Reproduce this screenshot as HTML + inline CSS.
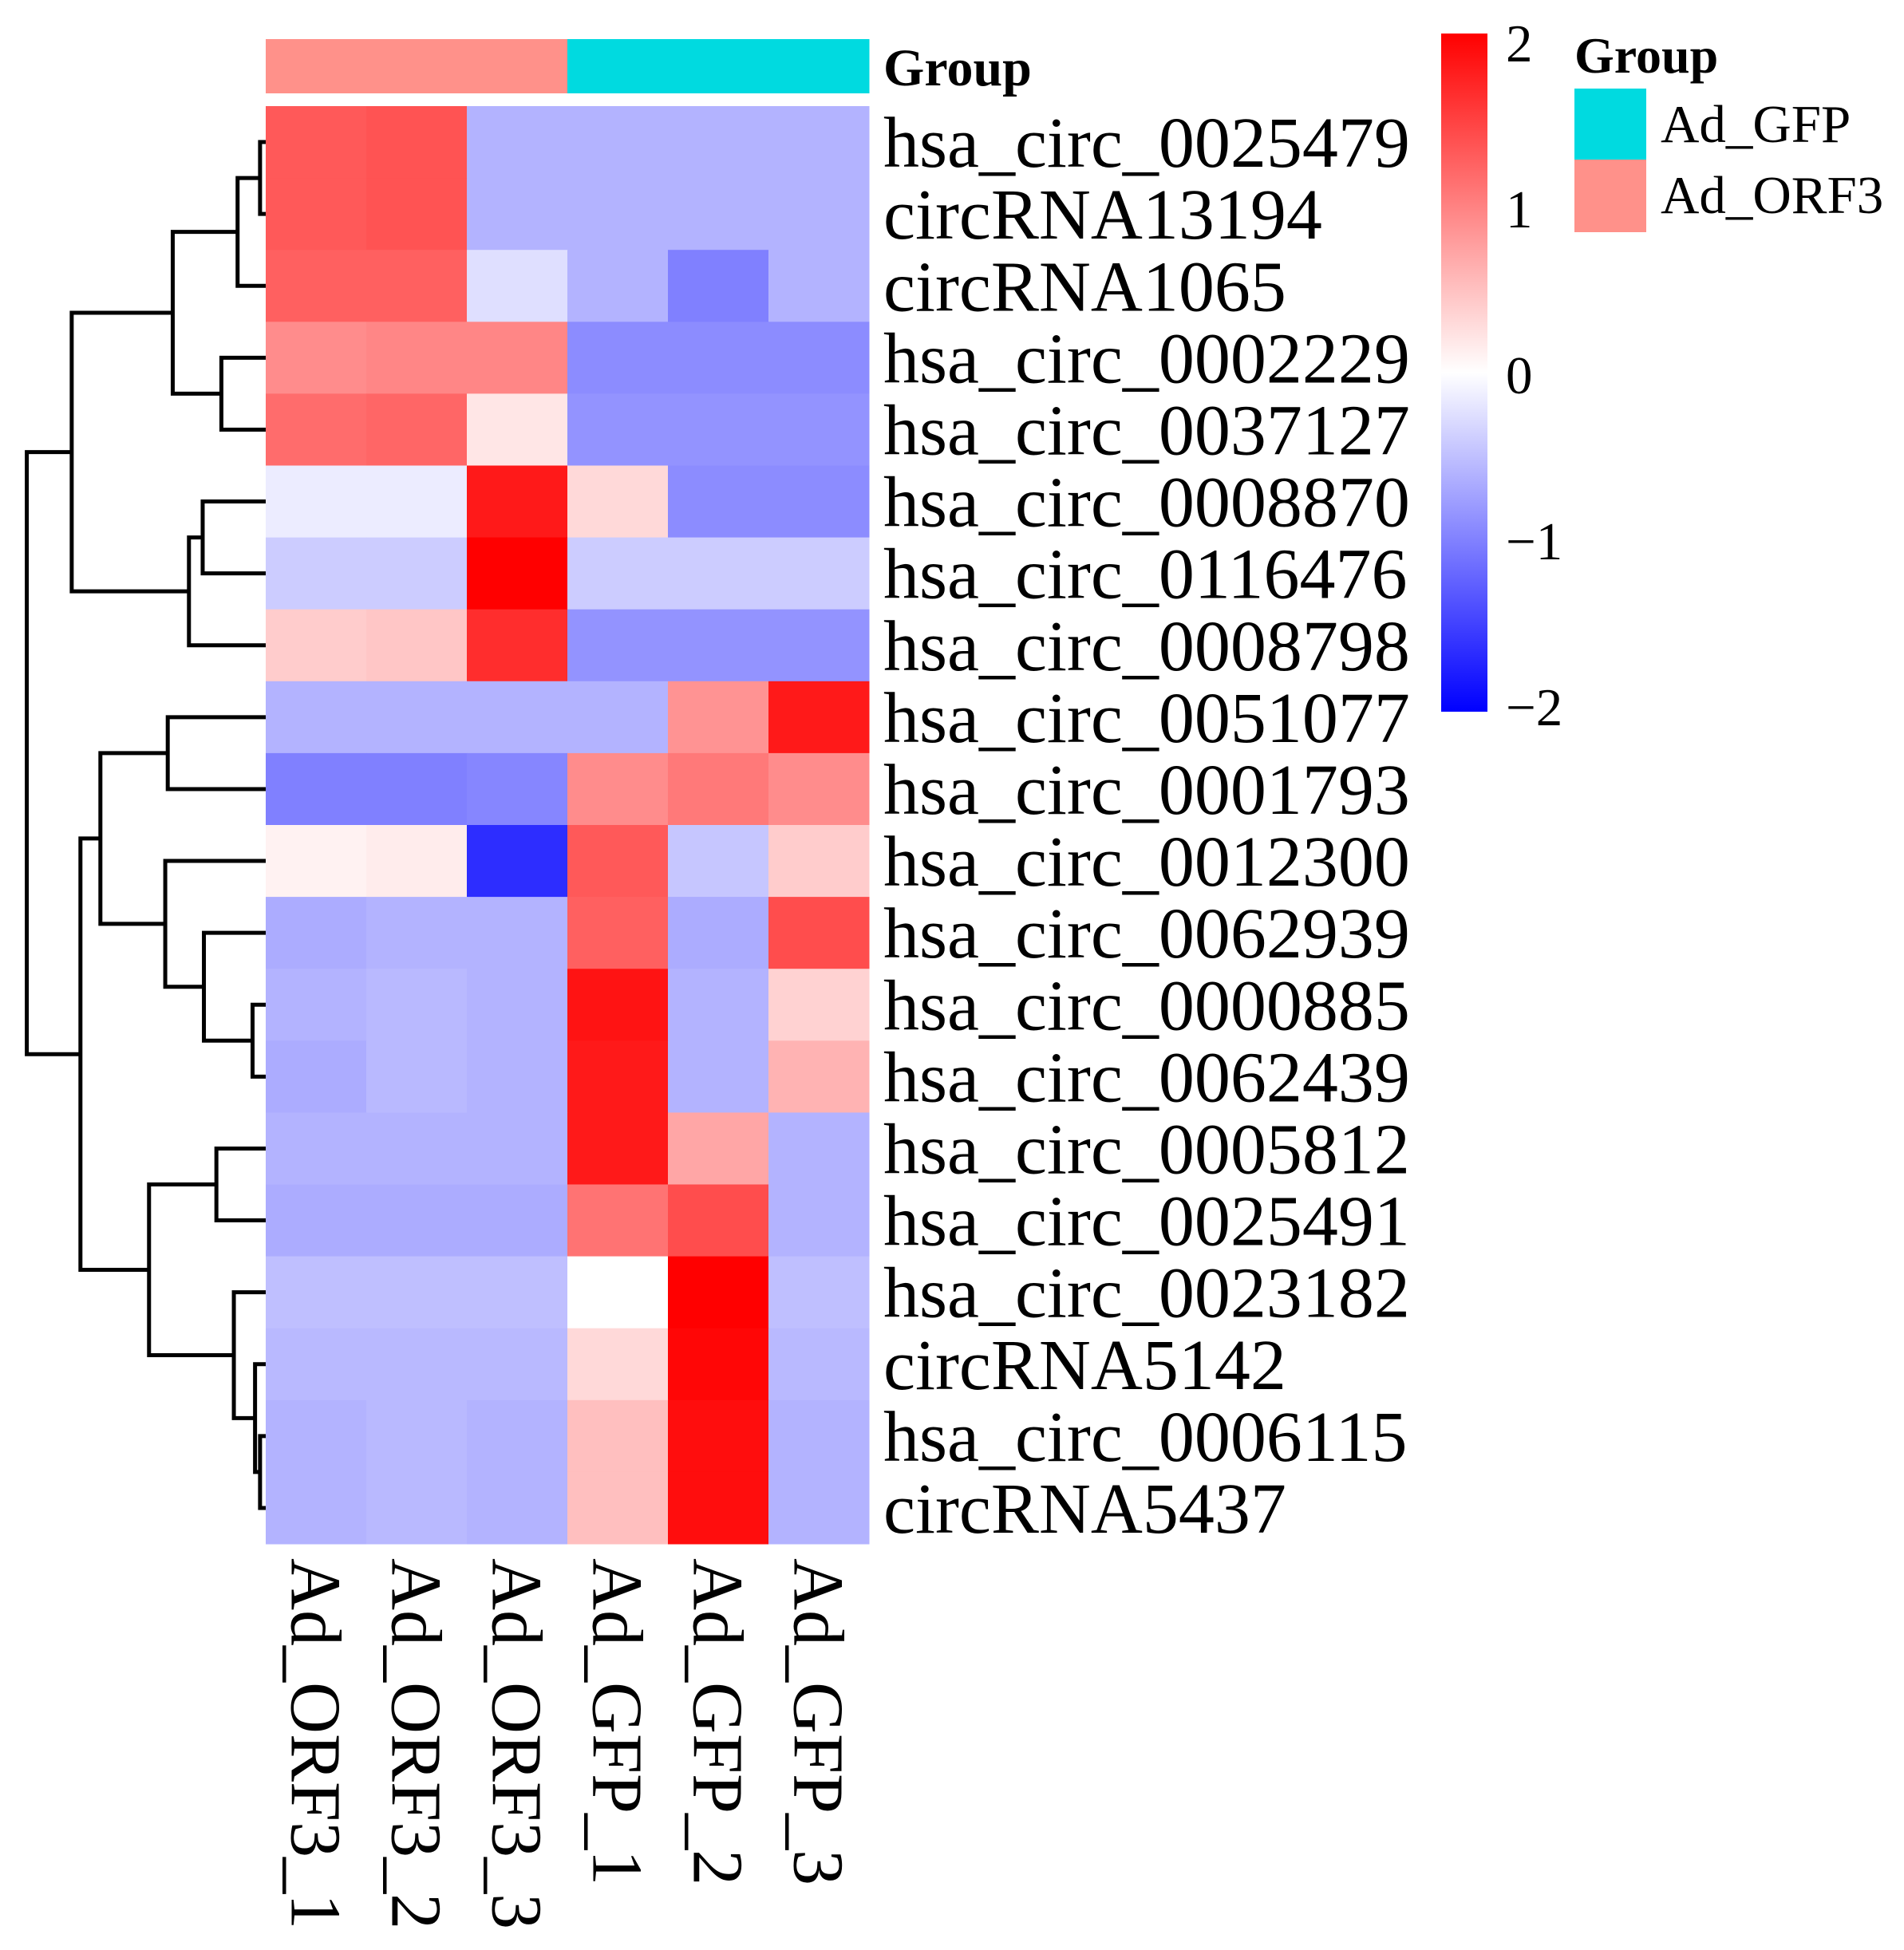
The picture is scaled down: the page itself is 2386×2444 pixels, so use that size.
<!DOCTYPE html>
<html><head><meta charset="utf-8"><style>
html,body{margin:0;padding:0;background:#fff;}
svg{display:block;font-family:"Liberation Serif",serif;}
</style></head><body>
<svg id="chart" width="2386" height="2444" viewBox="0 0 2386 2444" xmlns="http://www.w3.org/2000/svg">
<defs><linearGradient id="cbar" x1="0" y1="1" x2="0" y2="0">
<stop offset="0" stop-color="#0000ff"/><stop offset="0.5" stop-color="#ffffff"/><stop offset="1" stop-color="#ff0000"/>
</linearGradient></defs>
<g id="annot"></g>
<g id="cells"></g>
<g id="rowlabels"></g>
<g id="collabels"></g>
<g id="dendro"></g>
<text x="1107" y="107" font-weight="bold" font-size="66">Group</text>
<g>
<rect x="1806" y="42" width="58" height="850" fill="url(#cbar)"/>
<g id="cticks"></g>
</g>
<g>
<text x="1973" y="91" font-weight="bold" font-size="64">Group</text>
<rect x="1973" y="111" width="90" height="89" fill="#00dae0"/>
<text x="2081" y="178" font-size="67">Ad_GFP</text>
<rect x="1973" y="200" width="90" height="91" fill="#ff918a"/>
<text x="2081" y="267" font-size="67">Ad_ORF3</text>
</g>
</svg>
<script>
const rowNames = ["hsa_circ_0025479","circRNA13194","circRNA1065","hsa_circ_0002229","hsa_circ_0037127","hsa_circ_0008870","hsa_circ_0116476","hsa_circ_0008798","hsa_circ_0051077","hsa_circ_0001793","hsa_circ_0012300","hsa_circ_0062939","hsa_circ_0000885","hsa_circ_0062439","hsa_circ_0005812","hsa_circ_0025491","hsa_circ_0023182","circRNA5142","hsa_circ_0006115","circRNA5437"];
const colNames = ["Ad_ORF3_1","Ad_ORF3_2","Ad_ORF3_3","Ad_GFP_1","Ad_GFP_2","Ad_GFP_3"];
const colGroups = ["Ad_ORF3","Ad_ORF3","Ad_ORF3","Ad_GFP","Ad_GFP","Ad_GFP"];
const values = [
[1.3,1.35,-0.6,-0.6,-0.6,-0.6],
[1.3,1.35,-0.6,-0.6,-0.6,-0.6],
[1.25,1.25,-0.25,-0.6,-1.0,-0.6],
[0.9,0.95,0.95,-0.9,-0.9,-0.9],
[1.15,1.2,0.2,-0.85,-0.85,-0.85],
[-0.15,-0.15,1.8,0.3,-0.9,-0.9],
[-0.4,-0.4,2.0,-0.4,-0.4,-0.4],
[0.4,0.45,1.65,-0.85,-0.85,-0.85],
[-0.6,-0.6,-0.6,-0.6,0.85,1.8],
[-1.0,-1.0,-0.95,0.9,1.05,0.9],
[0.1,0.15,-1.65,1.3,-0.45,0.4],
[-0.65,-0.6,-0.6,1.25,-0.65,1.4],
[-0.6,-0.55,-0.6,1.85,-0.6,0.35],
[-0.65,-0.55,-0.6,1.8,-0.6,0.6],
[-0.6,-0.6,-0.6,1.8,0.7,-0.6],
[-0.65,-0.65,-0.65,1.1,1.4,-0.6],
[-0.5,-0.5,-0.5,0.0,2.0,-0.5],
[-0.55,-0.55,-0.55,0.3,1.95,-0.55],
[-0.6,-0.55,-0.6,0.5,1.9,-0.6],
[-0.6,-0.55,-0.6,0.5,1.9,-0.6]];
const colorTicks = [2,1,0,-1,-2];
// dendrogram merges: [childA, childB, height]; leaves are 0..19, merge k becomes node 20+k
const merges = [
[0,1,2],[20,2,20],[3,4,33],[21,22,72],[5,6,48],[24,7,59],[23,25,153],
[8,9,76],[12,13,8],[11,28,47],[10,29,78],[27,30,130],
[14,15,37],[18,19,2],[17,33,6],[16,34,23],[32,35,91],[31,36,146],[26,37,189]];

const NS="http://www.w3.org/2000/svg";
const X0=333, CW=126, Y0=133, RH=90.1;
const groupColor={"Ad_ORF3":"#ff918a","Ad_GFP":"#00dae0"};
function xCol(j){return X0+j*CW;}
function yRow(i){return Y0+i*RH;}
function xH(h){return X0-4-h*1.563;}
function col(v){
  v=Math.max(-2,Math.min(2,v));
  if(v>=0){const c=Math.round(255*(1-v/2));return `rgb(255,${c},${c})`;}
  const c=Math.round(255*(1+v/2));return `rgb(${c},${c},255)`;
}
function mk(tag,attrs,parent){const e=document.createElementNS(NS,tag);for(const k in attrs)e.setAttribute(k,attrs[k]);parent.appendChild(e);return e;}

const annot=document.getElementById('annot');
colGroups.forEach((g,j)=>{
  const r=mk('rect',{x:xCol(j),y:49,width:CW+0.5,height:68,fill:groupColor[g]},annot);
  
  
});
const cells=document.getElementById('cells');
values.forEach((row,i)=>row.forEach((v,j)=>{
  const r=mk('rect',{x:xCol(j),y:yRow(i),width:CW+0.5,height:RH+0.5,fill:col(v)},cells);
  
  
}));
const rl=document.getElementById('rowlabels');
rowNames.forEach((n,i)=>{
  const t=mk('text',{x:1107,y:yRow(i)+RH/2+31,'font-size':90},rl);
  t.textContent=n;
  
  
});
const cl=document.getElementById('collabels');
colNames.forEach((n,j)=>{
  const cx=xCol(j)+CW/2;
  const t=mk('text',{x:0,y:0,dy:'0.34em','font-size':90,transform:`translate(${cx},1953) rotate(90)`},cl);
  t.textContent=n;
  
  
});
const ct=document.getElementById('cticks');
colorTicks.forEach(v=>{
  const t=mk('text',{x:1887,y:470-v*208+23,'font-size':67},ct);
  t.textContent=(v<0?'\u2212':'')+Math.abs(v);
  
  
});
// dendrogram
const dg=document.getElementById('dendro');
const nodeY={}, nodeX={};
for(let i=0;i<rowNames.length;i++){nodeY[i]=yRow(i)+RH/2;nodeX[i]=X0;}
merges.forEach((m,k)=>{
  const [a,b,h]=m;const id=rowNames.length+k;const x=xH(h);
  const d=`M${nodeX[a]},${nodeY[a]}H${x}V${nodeY[b]}H${nodeX[b]}`;
  const p=mk('path',{d:d,fill:'none',stroke:'#000','stroke-width':5,'stroke-linejoin':'miter'},dg);
  
  
  nodeY[id]=(nodeY[a]+nodeY[b])/2;nodeX[id]=x;
});
</script>
</body></html>
